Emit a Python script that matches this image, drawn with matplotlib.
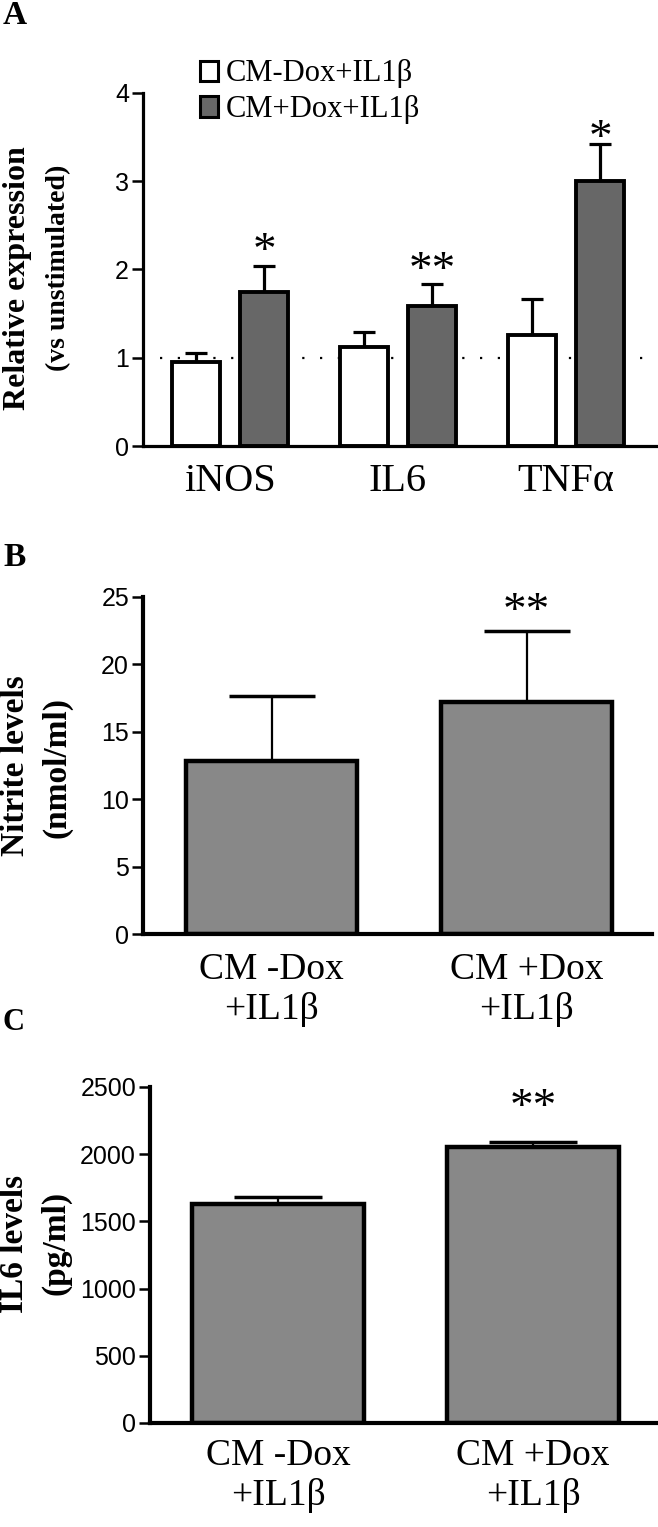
import numpy as np
import matplotlib.pyplot as plt
from matplotlib.patches import Patch

# panel A data
genes = ['iNOS', 'IL6', 'TNF\u03b1']
ctrl_mean = [0.95, 1.12, 1.26]
ctrl_err = [0.10, 0.17, 0.41]
dox_mean = [1.74, 1.59, 3.00]
dox_err = [0.30, 0.25, 0.42]
a_stars = ['*', '**', '*']
a_star_y = [2.34, 2.12, 3.62]
legend_labels = ['CM-Dox+IL1\u03b2', 'CM+Dox+IL1\u03b2']

# panel B data
groups = ['CM -Dox\n+IL1\u03b2', 'CM +Dox\n+IL1\u03b2']
nitrite = [12.8, 17.2]
nitrite_err = [4.85, 5.25]

# panel C data
il6 = [1630, 2050]
il6_err = [50, 38]

W, H = 658, 1527
fig = plt.figure(figsize=(W / 100, H / 100), dpi=100)

serif = 'Liberation Serif'
sans = 'Liberation Sans'


def px_axes(left, right, top, bottom):
    return fig.add_axes([left / W, 1 - bottom / H, (right - left) / W, (bottom - top) / H])


def style(ax, lw):
    ax.spines['top'].set_visible(False)
    ax.spines['right'].set_visible(False)
    ax.spines['left'].set_linewidth(lw)
    ax.spines['bottom'].set_linewidth(lw)
    ax.tick_params(axis='y', length=8, width=1.8, pad=2, labelsize=18)
    for t in ax.get_yticklabels():
        t.set_fontfamily(sans)
    ax.tick_params(axis='x', length=0)


def star(ax, x, y, s, size=34):
    # place visual centre of the asterisk glyph at y
    ax.annotate(s, xy=(x, y), xytext=(0, -0.52 * size), textcoords='offset points',
                ha='center', va='baseline', fontsize=size, fontfamily=serif)


def ylab(x, y, s, size):
    fig.text(x / W, 1 - y / H, s, rotation=90, ha='center', va='center',
             fontsize=size, fontweight='bold', fontfamily=serif)


# ---------- A ----------
axA = px_axes(143, 656, 93, 446)
pos = np.arange(len(genes))
off = 0.205
bw = 0.286
axA.axhline(1, xmin=0.033, xmax=0.975, color='black', lw=1.6,
            linestyle=(0, (1, 7)), zorder=0)
axA.bar(pos - off, ctrl_mean, bw, color='white', edgecolor='black', lw=2.8, zorder=2)
axA.bar(pos + off, dox_mean, bw, color='#676767', edgecolor='black', lw=2.8, zorder=2)
axA.errorbar(pos - off, ctrl_mean, yerr=[np.zeros(3), ctrl_err], fmt='none',
             ecolor='black', elinewidth=2.3, capsize=8, capthick=2.3, zorder=1)
axA.errorbar(pos + off, dox_mean, yerr=[np.zeros(3), dox_err], fmt='none',
             ecolor='black', elinewidth=2.3, capsize=8, capthick=2.3, zorder=1)
for i in range(3):
    star(axA, pos[i] + off, a_star_y[i], a_stars[i])
axA.set_xlim(-0.518, 2.536)
axA.set_ylim(0, 4)
axA.set_yticks([0, 1, 2, 3, 4])
style(axA, 2.3)
axA.set_xticks(pos, genes, fontsize=29, fontfamily=serif)
axA.tick_params(axis='x', pad=12)
handles = [Patch(facecolor='white', edgecolor='black', lw=2.2),
           Patch(facecolor='#676767', edgecolor='black', lw=2.2)]
axA.legend(handles, legend_labels, loc='upper left', bbox_to_anchor=(0.111, 1.095),
           frameon=False, prop={'family': serif, 'size': 22}, handlelength=0.6,
           handleheight=0.65, handletextpad=0.25, labelspacing=0.22,
           borderpad=0, borderaxespad=0)
ylab(18, 278, 'Relative expression', 23)
ylab(59, 268, '(vs unstimulated)', 20)
fig.text(3 / W, 1 - 16 / H, 'A', ha='left', va='center', fontsize=24,
         fontweight='bold', fontfamily=serif)

# ---------- B ----------
axB = px_axes(143, 652, 597, 934)
xb = np.arange(2)
axB.bar(xb, nitrite, 0.67, color='#888888', edgecolor='black', lw=3.2, zorder=2)
axB.errorbar(xb, nitrite, yerr=[np.zeros(2), nitrite_err], fmt='none',
             ecolor='black', elinewidth=1.6, capsize=31, capthick=2.5, zorder=1)
star(axB, xb[1], 24.8, '**')
axB.set_xlim(-0.504, 1.492)
axB.set_ylim(0, 25)
axB.set_yticks([0, 5, 10, 15, 20, 25])
style(axB, 3.0)
axB.set_xticks(xb, groups, fontsize=27, fontfamily=serif)
axB.tick_params(axis='x', pad=13)
ylab(16, 766, 'Nitrite levels', 24)
ylab(57, 767, '(nmol/ml)', 24)
fig.text(3 / W, 1 - 558 / H, 'B', ha='left', va='center', fontsize=24,
         fontweight='bold', fontfamily=serif)

# ---------- C ----------
axC = px_axes(150, 658, 1087, 1423)
axC.bar(xb, il6, 0.674, color='#888888', edgecolor='black', lw=3.2, zorder=2)
axC.errorbar(xb, il6, yerr=[np.zeros(2), il6_err], fmt='none',
             ecolor='black', elinewidth=1.6, capsize=32, capthick=2.5, zorder=1)
star(axC, xb[1], 2440, '**')
axC.set_xlim(-0.502, 1.49)
axC.set_ylim(0, 2500)
axC.set_yticks([0, 500, 1000, 1500, 2000, 2500])
style(axC, 3.0)
axC.set_xticks(xb, groups, fontsize=27, fontfamily=serif)
axC.tick_params(axis='x', pad=11)
ylab(15, 1244, 'IL6 levels', 24)
ylab(56, 1243, '(pg/ml)', 24)
fig.text(3 / W, 1 - 1022 / H, 'C', ha='left', va='center', fontsize=22,
         fontweight='bold', fontfamily=serif)

fig.savefig('out.png', dpi=100)
